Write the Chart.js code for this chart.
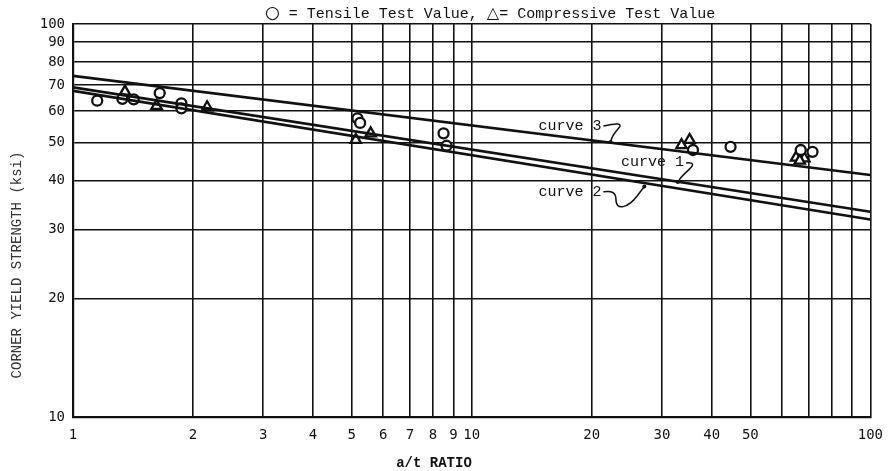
<!DOCTYPE html>
<html>
<head>
<meta charset="utf-8">
<script src="https://cdn.jsdelivr.net/npm/chart.js@4.4.1/dist/chart.umd.min.js"></script>
<style>
  html, body { margin: 0; padding: 0; background: #fff; }
  #wrap { width: 893px; height: 471px; }
</style>
</head>
<body>
<div id="wrap"><canvas id="myChart" width="893" height="471"></canvas></div>
<script>
// ticks
const xTicks = [1, 2, 3, 4, 5, 6, 7, 8, 9, 10, 20, 30, 40, 50, 60, 70, 80, 90, 100];
const xLabelled = [1, 2, 3, 4, 5, 6, 7, 8, 9, 10, 20, 30, 40, 50, 100];
const yTicks = [10, 20, 30, 40, 50, 60, 70, 80, 90, 100];

// straight lines on log-log paper (end points at a/t = 1 and 100)
const curve1 = [{ x: 1, y: 69.0 }, { x: 100, y: 33.3 }];
const curve2 = [{ x: 1, y: 67.6 }, { x: 100, y: 31.8 }];
const curve3 = [{ x: 1, y: 73.8 }, { x: 100, y: 41.3 }];

// test values
const tensile = [
    { x: 1.15, y: 63.8 }, { x: 1.33, y: 64.5 }, { x: 1.42, y: 64.3 },
    { x: 1.65, y: 66.7 }, { x: 1.87, y: 62.8 }, { x: 1.87, y: 61.0 },
    { x: 5.17, y: 57.5 }, { x: 5.25, y: 56.0 },
    { x: 8.5, y: 52.7 }, { x: 8.65, y: 49.0 },
    { x: 35.9, y: 47.8 }, { x: 44.6, y: 48.7 },
    { x: 66.9, y: 47.8 }, { x: 71.6, y: 47.3 }
];
const compressive = [
    { x: 1.35, y: 67.3 }, { x: 1.62, y: 61.9 }, { x: 2.17, y: 61.4 },
    { x: 5.12, y: 50.7 }, { x: 5.58, y: 52.7 },
    { x: 33.6, y: 49.2 }, { x: 35.2, y: 50.7 },
    { x: 65.1, y: 45.7 }, { x: 68.3, y: 45.5 }, { x: 66.5, y: 44.9 }
];

// curve labels with their leaders (data coordinates)
const curveNotes = [
    { text: 'curve 3', at: { x: 14.7, y: 55.0 },
      leader: [{ x: 21.4, y: 55.0 }, { x: 24.2, y: 56.6 }, { x: 22.6, y: 52.2 }, { x: 22.3, y: 50.1 }] },
    { text: 'curve 1', at: { x: 23.7, y: 44.6 },
      leader: [{ x: 34.5, y: 44.3 }, { x: 36.8, y: 44.6 }, { x: 33.5, y: 40.8 }, { x: 32.9, y: 39.6 }] },
    { text: 'curve 2', at: { x: 14.7, y: 37.4 },
      leader: [{ x: 21.4, y: 37.4 }, { x: 23.0, y: 37.9 }, { x: 23.0, y: 34.0 }, { x: 25.0, y: 34.6 }, { x: 27.1, y: 38.6 }] }
];

const mono = '"Liberation Mono", "DejaVu Sans Mono", monospace';
const tickFont = { family: '"DejaVu Sans Mono", monospace', size: 14 };

// titles and the curve notes are drawn here
const paperText = {
    id: 'paperText',
    afterDraw(chart) {
        const c = chart.ctx;
        const xs = chart.scales.x, ys = chart.scales.y;
        c.save();
        c.fillStyle = '#111';
        c.textBaseline = 'middle';
        c.textAlign = 'left';

        // key line: bigger symbols, typewriter text
        const parts = [
            ['\u25CB', 'bold 17px "DejaVu Sans", sans-serif'],
            [' = Tensile Test Value, ', '15px ' + mono],
            ['\u25B3', 'bold 16px "DejaVu Sans", sans-serif'],
            ['= Compressive Test Value', '15px ' + mono]
        ];
        let tx = 265;
        parts.forEach(([t, f]) => {
            c.font = f;
            c.fillText(t, tx, 14);
            tx += c.measureText(t).width;
        });

        c.textAlign = 'center';
        c.font = 'bold 14px ' + mono;
        c.fillText('a/t RATIO', 434, 463);

        c.save();
        c.translate(17, 265);
        c.rotate(-Math.PI / 2);
        c.font = '14px ' + mono;
        c.fillStyle = '#333';
        c.fillText('CORNER YIELD STRENGTH (ksi)', 0, 0);
        c.restore();

        c.font = '15px ' + mono;
        c.textAlign = 'left';
        c.strokeStyle = '#111';
        c.lineWidth = 1.5;
        c.lineJoin = 'round';
        curveNotes.forEach(n => {
            c.fillText(n.text, xs.getPixelForValue(n.at.x), ys.getPixelForValue(n.at.y));
            const pts = n.leader.map(p => [xs.getPixelForValue(p.x), ys.getPixelForValue(p.y)]);
            c.beginPath();
            c.moveTo(pts[0][0], pts[0][1]);
            for (let i = 1; i < pts.length - 1; i++) {
                const mx = (pts[i][0] + pts[i + 1][0]) / 2, my = (pts[i][1] + pts[i + 1][1]) / 2;
                c.quadraticCurveTo(pts[i][0], pts[i][1], mx, my);
            }
            const last = pts[pts.length - 1];
            c.lineTo(last[0], last[1]);
            c.stroke();
            c.beginPath();
            c.arc(last[0], last[1], 2, 0, Math.PI * 2);
            c.fill();
        });
        c.restore();
    }
};

const lineStyle = { showLine: true, borderColor: '#111', borderWidth: 2.6, pointRadius: 0, fill: false };

new Chart(document.getElementById('myChart'), {
    type: 'scatter',
    data: {
        datasets: [
            { label: 'curve 1', data: curve1, ...lineStyle },
            { label: 'curve 2', data: curve2, ...lineStyle },
            { label: 'curve 3', data: curve3, ...lineStyle },
            {
                label: 'Tensile Test Value', data: tensile, pointStyle: 'circle',
                pointRadius: 5, borderColor: '#111', borderWidth: 2.3, backgroundColor: '#fff'
            },
            {
                label: 'Compressive Test Value', data: compressive, pointStyle: 'triangle',
                pointRadius: 6, borderColor: '#111', borderWidth: 2.3, backgroundColor: '#fff'
            }
        ]
    },
    options: {
        responsive: false,
        animation: false,
        layout: { padding: { top: 24, right: 12, left: 0, bottom: 0 } },
        plugins: { legend: { display: false }, tooltip: { enabled: false } },
        scales: {
            x: {
                type: 'logarithmic', min: 1, max: 100,
                afterBuildTicks: s => { s.ticks = xTicks.map(v => ({ value: v })); },
                afterFit: s => { s.height = 54; },
                ticks: {
                    autoSkip: false, maxRotation: 0, padding: 10, color: '#111', font: tickFont,
                    callback: v => xLabelled.includes(v) ? String(v) : ''
                },
                grid: { color: '#111', lineWidth: 1.6, drawTicks: false },
                border: { display: true, color: '#111', width: 2.2 }
            },
            y: {
                type: 'logarithmic', min: 10, max: 100,
                afterBuildTicks: s => { s.ticks = yTicks.map(v => ({ value: v })); },
                afterFit: s => { s.width = 73; },
                ticks: {
                    autoSkip: false, padding: 8, color: '#111', font: tickFont,
                    callback: v => String(v)
                },
                grid: { color: '#111', lineWidth: 1.6, drawTicks: false },
                border: { display: true, color: '#111', width: 2.2 }
            }
        }
    },
    plugins: [paperText]
});
</script>
</body>
</html>
